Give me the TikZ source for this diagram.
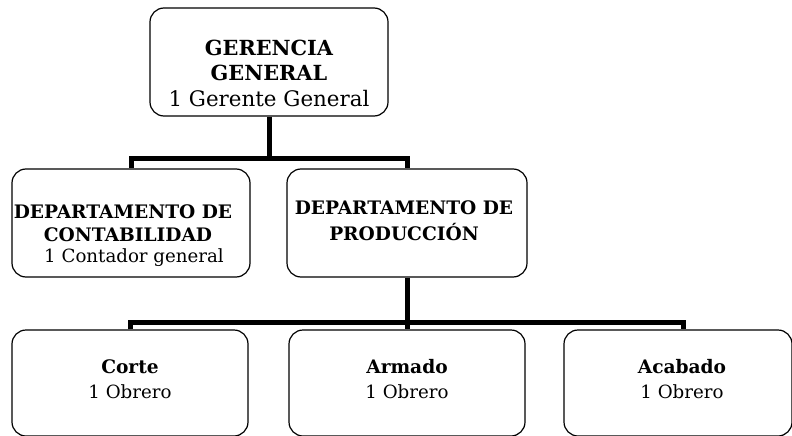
\documentclass[tikz,border=0pt]{standalone}
\usepackage{fontspec}
\setmainfont{DejaVu Serif}
\begin{document}
\begin{tikzpicture}[x=1pt,y=-1pt,
  box/.style={draw,line width=1.2pt,rounded corners=14pt,inner sep=0pt},
  conn/.style={line width=5pt,line join=miter},
  big/.style={font=\fontsize{20.8}{24}\selectfont\bfseries,inner sep=0pt,align=center},
  bigr/.style={font=\fontsize{21.4}{24}\selectfont,inner sep=0pt,align=center},
  mid/.style={font=\fontsize{18.6}{22}\selectfont\bfseries,inner sep=0pt,align=center},
  midr/.style={font=\fontsize{18.2}{22}\selectfont,inner sep=0pt,align=center}]
\useasboundingbox (0,0) rectangle (792,436);
\clip (0,0) rectangle (792,436);
% boxes
\node[box,minimum width=238pt,minimum height=108pt] (gg) at (269,62) {};
\node[box,minimum width=238pt,minimum height=108pt] (dc) at (131,223) {};
\node[box,minimum width=240pt,minimum height=108pt] (dp) at (407,223) {};
\node[box,minimum width=236pt,minimum height=106pt] (c1) at (130,383) {};
\node[box,minimum width=236pt,minimum height=106pt] (c2) at (407,383) {};
\node[box,minimum width=228pt,minimum height=106pt] (c3) at (678,383) {};
% texts
\node[big] (t1) at (269,48) {GERENCIA};
\node[big] (t2) at (269,73) {GENERAL};
\node[bigr] (t3) at (269,99) {1 Gerente General};
\node[mid] (t4) at (123,212) {DEPARTAMENTO DE};
\node[mid] (t5) at (128,235) {CONTABILIDAD};
\node[midr] (t6) at (134,258) {1 Contador general};
\node[mid] (t7) at (404,208) {DEPARTAMENTO DE};
\node[mid] (t8) at (404,232) {PRODUCCIÓN};
\node[mid] (t9) at (130,367) {Corte};
\node[midr] (t10) at (130,392) {1 Obrero};
\node[mid] (t11) at (407,367) {Armado};
\node[midr] (t12) at (407,392) {1 Obrero};
\node[mid] (t13) at (682,367) {Acabado};
\node[midr] (t14) at (682,392) {1 Obrero};
% connectors
\coordinate (j1) at (269,158);
\coordinate (j2) at (407,322);
\coordinate (j3) at (683,322);
\draw[conn] (gg.south) -- (j1);
\draw[conn] (dc.north) |- (j1) -| (dp.north);
\draw[conn] (dp.south) -- (j2);
\draw[conn] (c1.north) |- (j2) -- (j3) -- (j3 |- c3.north);
\draw[conn] (j2) -- (c2.north);
\end{tikzpicture}
\end{document}
